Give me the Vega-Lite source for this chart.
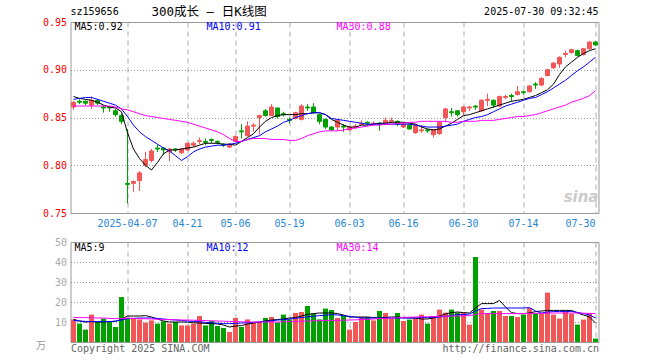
{
"$schema":"https://vega.github.io/schema/vega-lite/v6.json",
"padding":{"left":29.5,"top":5,"right":10,"bottom":4},
"spacing":7,
"config":{"view":{"stroke":"#999999","strokeWidth":1},"font":"DejaVu Sans Mono","axis":{"labelFont":"DejaVu Sans Mono","labelFontSize":10,"labelOverlap":false},"text":{"font":"DejaVu Sans Mono","fontSize":10,"baseline":"middle"}},
"data":{"values":[
{"d":"2025-03-24","o":0.861,"c":0.866,"h":0.867,"l":0.858,"v":11.3,"m5":0.872,"m10":0.869,"m30":0.862,"vm5":11.3,"vm10":10.8,"vm30":12.2},
{"d":"2025-03-25","o":0.867,"c":0.866,"h":0.869,"l":0.864,"v":9.2,"m5":0.870,"m10":0.870,"m30":0.862,"vm5":10.5,"vm10":10.5,"vm30":12.2},
{"d":"2025-03-26","o":0.867,"c":0.865,"h":0.868,"l":0.863,"v":6.2,"m5":0.869,"m10":0.871,"m30":0.862,"vm5":10,"vm10":10.3,"vm30":12.2},
{"d":"2025-03-27","o":0.863,"c":0.868,"h":0.872,"l":0.859,"v":13.7,"m5":0.868,"m10":0.871,"m30":0.862,"vm5":10.2,"vm10":10.2,"vm30":12.1},
{"d":"2025-03-28","o":0.868,"c":0.865,"h":0.869,"l":0.863,"v":10,"m5":0.866,"m10":0.869,"m30":0.862,"vm5":10,"vm10":10.2,"vm30":12},
{"d":"2025-03-31","o":0.861,"c":0.860,"h":0.863,"l":0.855,"v":11.7,"m5":0.863,"m10":0.867,"m30":0.862,"vm5":10,"vm10":10.2,"vm30":12},
{"d":"2025-04-01","o":0.861,"c":0.860,"h":0.862,"l":0.856,"v":10,"m5":0.861,"m10":0.865,"m30":0.862,"vm5":10.2,"vm10":10.2,"vm30":11.8},
{"d":"2025-04-02","o":0.857,"c":0.853,"h":0.859,"l":0.851,"v":7.5,"m5":0.860,"m10":0.863,"m30":0.861,"vm5":10.3,"vm10":10.5,"vm30":11.7},
{"d":"2025-04-03","o":0.852,"c":0.846,"h":0.854,"l":0.843,"v":22.5,"m5":0.856,"m10":0.859,"m30":0.859,"vm5":11.3,"vm10":11,"vm30":11.7},
{"d":"2025-04-07","o":0.781,"c":0.780,"h":0.838,"l":0.760,"v":11.7,"m5":0.834,"m10":0.851,"m30":0.858,"vm5":13,"vm10":11.7,"vm30":12},
{"d":"2025-04-08","o":0.781,"c":0.783,"h":0.784,"l":0.772,"v":11.7,"m5":0.817,"m10":0.842,"m30":0.856,"vm5":13,"vm10":11.8,"vm30":11.8},
{"d":"2025-04-09","o":0.784,"c":0.792,"h":0.794,"l":0.773,"v":11.3,"m5":0.807,"m10":0.835,"m30":0.854,"vm5":13,"vm10":12,"vm30":11.7},
{"d":"2025-04-10","o":0.800,"c":0.806,"h":0.814,"l":0.798,"v":9.7,"m5":0.800,"m10":0.830,"m30":0.852,"vm5":13.2,"vm10":12,"vm30":11.6},
{"d":"2025-04-11","o":0.805,"c":0.815,"h":0.817,"l":0.803,"v":10.8,"m5":0.795,"m10":0.826,"m30":0.851,"vm5":12.5,"vm10":12,"vm30":11.5},
{"d":"2025-04-14","o":0.818,"c":0.817,"h":0.822,"l":0.814,"v":9.2,"m5":0.803,"m10":0.822,"m30":0.850,"vm5":11.5,"vm10":11.8,"vm30":11.4},
{"d":"2025-04-15","o":0.818,"c":0.816,"h":0.819,"l":0.811,"v":10.3,"m5":0.812,"m10":0.818,"m30":0.849,"vm5":10.5,"vm10":11.5,"vm30":11.3},
{"d":"2025-04-16","o":0.814,"c":0.817,"h":0.818,"l":0.804,"v":9.2,"m5":0.816,"m10":0.815,"m30":0.848,"vm5":10,"vm10":11.2,"vm30":11.2},
{"d":"2025-04-17","o":0.817,"c":0.816,"h":0.818,"l":0.814,"v":10,"m5":0.816,"m10":0.810,"m30":0.847,"vm5":10,"vm10":11,"vm30":11.1},
{"d":"2025-04-18","o":0.813,"c":0.817,"h":0.818,"l":0.812,"v":8.3,"m5":0.817,"m10":0.805,"m30":0.846,"vm5":10,"vm10":10.8,"vm30":11},
{"d":"2025-04-21","o":0.816,"c":0.823,"h":0.824,"l":0.815,"v":8.3,"m5":0.818,"m10":0.809,"m30":0.845,"vm5":10,"vm10":10.5,"vm30":11},
{"d":"2025-04-22","o":0.821,"c":0.823,"h":0.825,"l":0.819,"v":9.2,"m5":0.819,"m10":0.814,"m30":0.843,"vm5":9.6,"vm10":10.3,"vm30":10.9},
{"d":"2025-04-23","o":0.825,"c":0.826,"h":0.829,"l":0.822,"v":13,"m5":0.821,"m10":0.817,"m30":0.841,"vm5":9.5,"vm10":10.1,"vm30":10.8},
{"d":"2025-04-24","o":0.825,"c":0.824,"h":0.828,"l":0.821,"v":8.3,"m5":0.823,"m10":0.819,"m30":0.839,"vm5":9.3,"vm10":9.8,"vm30":10.7},
{"d":"2025-04-25","o":0.827,"c":0.826,"h":0.828,"l":0.823,"v":10.5,"m5":0.823,"m10":0.820,"m30":0.837,"vm5":9.2,"vm10":9.6,"vm30":10.6},
{"d":"2025-04-28","o":0.825,"c":0.824,"h":0.826,"l":0.822,"v":8,"m5":0.823,"m10":0.821,"m30":0.835,"vm5":9,"vm10":9.4,"vm30":10.5},
{"d":"2025-04-29","o":0.822,"c":0.821,"h":0.823,"l":0.819,"v":7,"m5":0.822,"m10":0.821,"m30":0.832,"vm5":8.5,"vm10":9.2,"vm30":10.4},
{"d":"2025-04-30","o":0.819,"c":0.822,"h":0.823,"l":0.818,"v":5,"m5":0.822,"m10":0.822,"m30":0.828,"vm5":7.5,"vm10":9.2,"vm30":10.3},
{"d":"2025-05-06","o":0.825,"c":0.830,"h":0.831,"l":0.824,"v":12,"m5":0.821,"m10":0.823,"m30":0.825,"vm5":8,"vm10":9.3,"vm30":10.2},
{"d":"2025-05-07","o":0.836,"c":0.835,"h":0.843,"l":0.828,"v":7.5,"m5":0.825,"m10":0.825,"m30":0.825,"vm5":8.2,"vm10":9.5,"vm30":10.1},
{"d":"2025-05-08","o":0.831,"c":0.841,"h":0.846,"l":0.830,"v":11.3,"m5":0.829,"m10":0.827,"m30":0.827,"vm5":9,"vm10":9.6,"vm30":10},
{"d":"2025-05-09","o":0.841,"c":0.842,"h":0.844,"l":0.835,"v":9.5,"m5":0.833,"m10":0.829,"m30":0.828,"vm5":9.5,"vm10":9.8,"vm30":10},
{"d":"2025-05-12","o":0.850,"c":0.852,"h":0.853,"l":0.832,"v":10,"m5":0.840,"m10":0.831,"m30":0.828,"vm5":10,"vm10":10,"vm30":10},
{"d":"2025-05-13","o":0.857,"c":0.852,"h":0.859,"l":0.851,"v":12,"m5":0.846,"m10":0.835,"m30":0.828,"vm5":10.5,"vm10":10.3,"vm30":10},
{"d":"2025-05-14","o":0.852,"c":0.861,"h":0.864,"l":0.852,"v":12.5,"m5":0.850,"m10":0.838,"m30":0.827,"vm5":11,"vm10":10.6,"vm30":10},
{"d":"2025-05-15","o":0.860,"c":0.851,"h":0.860,"l":0.849,"v":9.7,"m5":0.852,"m10":0.841,"m30":0.827,"vm5":11.2,"vm10":11,"vm30":10},
{"d":"2025-05-16","o":0.854,"c":0.853,"h":0.856,"l":0.851,"v":13.7,"m5":0.853,"m10":0.845,"m30":0.827,"vm5":11.5,"vm10":11.2,"vm30":10.1},
{"d":"2025-05-19","o":0.848,"c":0.847,"h":0.850,"l":0.844,"v":11.3,"m5":0.853,"m10":0.847,"m30":0.826,"vm5":12,"vm10":11.5,"vm30":10.2},
{"d":"2025-05-20","o":0.849,"c":0.855,"h":0.856,"l":0.848,"v":14.5,"m5":0.853,"m10":0.850,"m30":0.826,"vm5":12.2,"vm10":11.8,"vm30":10.3},
{"d":"2025-05-21","o":0.848,"c":0.862,"h":0.864,"l":0.847,"v":15,"m5":0.854,"m10":0.852,"m30":0.828,"vm5":13,"vm10":12.2,"vm30":10.4},
{"d":"2025-05-22","o":0.861,"c":0.860,"h":0.864,"l":0.857,"v":18,"m5":0.854,"m10":0.854,"m30":0.831,"vm5":13.8,"vm10":12.6,"vm30":10.5},
{"d":"2025-05-23","o":0.861,"c":0.855,"h":0.865,"l":0.854,"v":14.2,"m5":0.855,"m10":0.855,"m30":0.833,"vm5":14.2,"vm10":12.9,"vm30":10.6},
{"d":"2025-05-26","o":0.853,"c":0.846,"h":0.854,"l":0.843,"v":11.3,"m5":0.855,"m10":0.855,"m30":0.835,"vm5":14.5,"vm10":13.2,"vm30":10.7},
{"d":"2025-05-27","o":0.848,"c":0.840,"h":0.849,"l":0.838,"v":16.7,"m5":0.853,"m10":0.853,"m30":0.836,"vm5":14.5,"vm10":13.4,"vm30":10.8},
{"d":"2025-05-28","o":0.840,"c":0.837,"h":0.841,"l":0.836,"v":16,"m5":0.848,"m10":0.849,"m30":0.836,"vm5":14.6,"vm10":13.7,"vm30":10.8},
{"d":"2025-05-29","o":0.840,"c":0.847,"h":0.848,"l":0.836,"v":12,"m5":0.845,"m10":0.848,"m30":0.836,"vm5":14.2,"vm10":13.5,"vm30":10.8},
{"d":"2025-05-30","o":0.841,"c":0.840,"h":0.843,"l":0.835,"v":13,"m5":0.842,"m10":0.847,"m30":0.837,"vm5":13.5,"vm10":13.2,"vm30":10.9},
{"d":"2025-06-03","o":0.837,"c":0.840,"h":0.841,"l":0.836,"v":6.2,"m5":0.840,"m10":0.846,"m30":0.838,"vm5":12.5,"vm10":12.8,"vm30":11},
{"d":"2025-06-04","o":0.840,"c":0.841,"h":0.843,"l":0.838,"v":10,"m5":0.840,"m10":0.845,"m30":0.839,"vm5":12.5,"vm10":12.4,"vm30":11.1},
{"d":"2025-06-05","o":0.843,"c":0.844,"h":0.847,"l":0.842,"v":12.5,"m5":0.842,"m10":0.844,"m30":0.840,"vm5":12.5,"vm10":12,"vm30":11.2},
{"d":"2025-06-06","o":0.845,"c":0.844,"h":0.846,"l":0.842,"v":12.5,"m5":0.842,"m10":0.843,"m30":0.841,"vm5":12.5,"vm10":12,"vm30":11.3},
{"d":"2025-06-09","o":0.843,"c":0.844,"h":0.846,"l":0.841,"v":10.8,"m5":0.843,"m10":0.843,"m30":0.842,"vm5":12.2,"vm10":12,"vm30":11.5},
{"d":"2025-06-10","o":0.844,"c":0.843,"h":0.845,"l":0.836,"v":15.5,"m5":0.844,"m10":0.843,"m30":0.842,"vm5":12,"vm10":12,"vm30":11.7},
{"d":"2025-06-11","o":0.843,"c":0.847,"h":0.850,"l":0.842,"v":14.5,"m5":0.844,"m10":0.843,"m30":0.843,"vm5":12.3,"vm10":12,"vm30":11.8},
{"d":"2025-06-12","o":0.846,"c":0.847,"h":0.850,"l":0.844,"v":11.7,"m5":0.845,"m10":0.843,"m30":0.843,"vm5":12.5,"vm10":12,"vm30":12},
{"d":"2025-06-13","o":0.846,"c":0.843,"h":0.847,"l":0.841,"v":14.5,"m5":0.845,"m10":0.843,"m30":0.844,"vm5":12.5,"vm10":12,"vm30":12.1},
{"d":"2025-06-16","o":0.840,"c":0.843,"h":0.844,"l":0.839,"v":10.5,"m5":0.845,"m10":0.843,"m30":0.844,"vm5":12.2,"vm10":12,"vm30":12.3},
{"d":"2025-06-17","o":0.842,"c":0.838,"h":0.843,"l":0.837,"v":11.2,"m5":0.844,"m10":0.843,"m30":0.845,"vm5":12,"vm10":12,"vm30":12.4},
{"d":"2025-06-18","o":0.834,"c":0.842,"h":0.843,"l":0.833,"v":12,"m5":0.843,"m10":0.842,"m30":0.845,"vm5":12,"vm10":12,"vm30":12.5},
{"d":"2025-06-19","o":0.836,"c":0.837,"h":0.842,"l":0.834,"v":13.7,"m5":0.840,"m10":0.841,"m30":0.846,"vm5":11.5,"vm10":12.2,"vm30":12.6},
{"d":"2025-06-20","o":0.837,"c":0.836,"h":0.838,"l":0.834,"v":9.2,"m5":0.838,"m10":0.840,"m30":0.846,"vm5":11.5,"vm10":12.2,"vm30":12.6},
{"d":"2025-06-23","o":0.832,"c":0.837,"h":0.838,"l":0.829,"v":13,"m5":0.837,"m10":0.840,"m30":0.846,"vm5":12,"vm10":12.3,"vm30":12.7},
{"d":"2025-06-24","o":0.833,"c":0.845,"h":0.846,"l":0.832,"v":16.2,"m5":0.838,"m10":0.840,"m30":0.846,"vm5":13,"vm10":12.5,"vm30":12.8},
{"d":"2025-06-25","o":0.850,"c":0.859,"h":0.860,"l":0.845,"v":14.7,"m5":0.841,"m10":0.841,"m30":0.846,"vm5":14,"vm10":12.8,"vm30":12.9},
{"d":"2025-06-26","o":0.856,"c":0.855,"h":0.860,"l":0.851,"v":16.2,"m5":0.844,"m10":0.842,"m30":0.845,"vm5":14.7,"vm10":13.2,"vm30":13},
{"d":"2025-06-27","o":0.857,"c":0.853,"h":0.858,"l":0.851,"v":14.7,"m5":0.848,"m10":0.843,"m30":0.845,"vm5":15,"vm10":13.7,"vm30":13},
{"d":"2025-06-30","o":0.856,"c":0.861,"h":0.862,"l":0.853,"v":14.7,"m5":0.852,"m10":0.846,"m30":0.846,"vm5":14.7,"vm10":13.7,"vm30":13.1},
{"d":"2025-07-01","o":0.860,"c":0.861,"h":0.862,"l":0.857,"v":8.7,"m5":0.853,"m10":0.848,"m30":0.846,"vm5":14.5,"vm10":14,"vm30":13.2},
{"d":"2025-07-02","o":0.862,"c":0.861,"h":0.863,"l":0.858,"v":42.5,"m5":0.855,"m10":0.850,"m30":0.846,"vm5":17,"vm10":15.5,"vm30":13.8},
{"d":"2025-07-03","o":0.857,"c":0.868,"h":0.869,"l":0.856,"v":16.2,"m5":0.857,"m10":0.851,"m30":0.847,"vm5":19.2,"vm10":16.7,"vm30":14.2},
{"d":"2025-07-04","o":0.868,"c":0.869,"h":0.875,"l":0.862,"v":14.5,"m5":0.859,"m10":0.853,"m30":0.847,"vm5":19.2,"vm10":16.8,"vm30":14.2},
{"d":"2025-07-07","o":0.868,"c":0.863,"h":0.869,"l":0.860,"v":15.5,"m5":0.861,"m10":0.856,"m30":0.847,"vm5":19.2,"vm10":17,"vm30":14.2},
{"d":"2025-07-08","o":0.862,"c":0.872,"h":0.873,"l":0.861,"v":15.5,"m5":0.863,"m10":0.859,"m30":0.848,"vm5":20.8,"vm10":17,"vm30":14.2},
{"d":"2025-07-09","o":0.871,"c":0.872,"h":0.874,"l":0.869,"v":13,"m5":0.865,"m10":0.862,"m30":0.849,"vm5":17.5,"vm10":17,"vm30":14.2},
{"d":"2025-07-10","o":0.873,"c":0.872,"h":0.875,"l":0.867,"v":13,"m5":0.867,"m10":0.864,"m30":0.850,"vm5":14.7,"vm10":17,"vm30":14.2},
{"d":"2025-07-11","o":0.874,"c":0.877,"h":0.883,"l":0.873,"v":12.5,"m5":0.868,"m10":0.866,"m30":0.851,"vm5":14.2,"vm10":17,"vm30":14.2},
{"d":"2025-07-14","o":0.877,"c":0.876,"h":0.878,"l":0.874,"v":13.7,"m5":0.869,"m10":0.868,"m30":0.851,"vm5":14.2,"vm10":17,"vm30":14.2},
{"d":"2025-07-15","o":0.877,"c":0.883,"h":0.884,"l":0.876,"v":17,"m5":0.871,"m10":0.870,"m30":0.852,"vm5":14.5,"vm10":17.2,"vm30":14.3},
{"d":"2025-07-16","o":0.885,"c":0.884,"h":0.887,"l":0.880,"v":14.5,"m5":0.873,"m10":0.871,"m30":0.853,"vm5":15.2,"vm10":15.5,"vm30":14.3},
{"d":"2025-07-17","o":0.884,"c":0.891,"h":0.892,"l":0.883,"v":14.2,"m5":0.876,"m10":0.874,"m30":0.855,"vm5":15.5,"vm10":14.5,"vm30":14.3},
{"d":"2025-07-18","o":0.894,"c":0.900,"h":0.901,"l":0.893,"v":24.7,"m5":0.879,"m10":0.877,"m30":0.857,"vm5":15.8,"vm10":15,"vm30":14.4},
{"d":"2025-07-21","o":0.902,"c":0.907,"h":0.908,"l":0.901,"v":13.7,"m5":0.885,"m10":0.881,"m30":0.859,"vm5":15.8,"vm10":15.2,"vm30":14.5},
{"d":"2025-07-22","o":0.906,"c":0.913,"h":0.914,"l":0.902,"v":11.7,"m5":0.895,"m10":0.885,"m30":0.861,"vm5":15.8,"vm10":15.3,"vm30":14.5},
{"d":"2025-07-23","o":0.916,"c":0.917,"h":0.920,"l":0.913,"v":15.5,"m5":0.903,"m10":0.889,"m30":0.863,"vm5":15.8,"vm10":15.3,"vm30":14.5},
{"d":"2025-07-24","o":0.918,"c":0.921,"h":0.922,"l":0.917,"v":14.2,"m5":0.908,"m10":0.894,"m30":0.866,"vm5":15.8,"vm10":15.3,"vm30":14.5},
{"d":"2025-07-25","o":0.920,"c":0.915,"h":0.921,"l":0.914,"v":8.7,"m5":0.913,"m10":0.899,"m30":0.868,"vm5":14.5,"vm10":14.8,"vm30":14.5},
{"d":"2025-07-28","o":0.916,"c":0.922,"h":0.923,"l":0.915,"v":11.2,"m5":0.917,"m10":0.903,"m30":0.870,"vm5":13.5,"vm10":14.2,"vm30":14.4},
{"d":"2025-07-29","o":0.922,"c":0.929,"h":0.930,"l":0.921,"v":14.5,"m5":0.920,"m10":0.908,"m30":0.873,"vm5":12.5,"vm10":13.5,"vm30":14.3},
{"d":"2025-07-30","o":0.929,"c":0.926,"h":0.930,"l":0.925,"v":1.7,"m5":0.922,"m10":0.913,"m30":0.878,"vm5":9.5,"vm10":12,"vm30":14.2}
]},
"vconcat":[
{"width":528,"height":191,
"layer":[
{"mark":{"type":"rule","strokeWidth":1},
"encoding":{
"x":{"field":"d","type":"ordinal","scale":{"type":"band","paddingInner":0,"paddingOuter":0},"axis":{"title":null,"values":["2025-04-07","2025-04-21","2025-05-06","2025-05-19","2025-06-03","2025-06-16","2025-06-30","2025-07-14","2025-07-30"],"labelExpr":"datum.value == '2025-04-07' ? datum.value : slice(datum.value, 5)","labelAngle":0,"labelOverlap":false,"grid":true,"gridDash":[5,4],"gridColor":"#aaaaaa","ticks":false,"domain":false,"labelColor":"#2a86d6","labelPadding":5,"bandPosition":0.5,"labelFlush":9}},
"y":{"field":"l","type":"quantitative","scale":{"domain":[0.75,0.95],"nice":false,"zero":false},"axis":{"title":null,"values":[0.75,0.8,0.85,0.9,0.95],"format":".2f","labelOverlap":false,"grid":true,"gridDash":[1,2],"gridColor":"#999999","ticks":false,"domain":false,"labelColor":"#ff0000","labelPadding":4,"minExtent":40,"maxExtent":40}},
"y2":{"field":"h"},
"color":{"condition":{"test":"datum.c >= datum.o","value":"#f25757"},"value":"#00a000"}}},
{"mark":{"type":"bar","size":4,"strokeWidth":1},
"encoding":{
"x":{"field":"d","type":"ordinal"},
"y":{"field":"o","type":"quantitative"},
"y2":{"field":"c"},
"fill":{"condition":{"test":"datum.c >= datum.o","value":"#f25757"},"value":"#00a000"},
"stroke":{"condition":{"test":"datum.c >= datum.o","value":"#f25757"},"value":"#00a000"}}},
{"mark":{"type":"line","strokeWidth":1,"color":"#000000"},"encoding":{"x":{"field":"d","type":"ordinal"},"y":{"field":"m5","type":"quantitative"}}},
{"mark":{"type":"line","strokeWidth":1,"color":"#0000ff"},"encoding":{"x":{"field":"d","type":"ordinal"},"y":{"field":"m10","type":"quantitative"}}},
{"mark":{"type":"line","strokeWidth":1,"color":"#ff00ff"},"encoding":{"x":{"field":"d","type":"ordinal"},"y":{"field":"m30","type":"quantitative"}}},
{"data":{"values":[{}]},"mark":{"type":"text","align":"left","dx":-3,"color":"#000000"},"encoding":{"x":{"datum":"2025-03-24","type":"ordinal"},"y":{"datum":0.9605,"type":"quantitative"},"text":{"value":"sz159656"}}},
{"data":{"values":[{}]},"mark":{"type":"text","align":"left","dx":0,"color":"#000000","fontSize":12.5,"font":"DejaVu Sans Mono, Noto Sans CJK SC"},"encoding":{"x":{"datum":"2025-04-11","type":"ordinal"},"y":{"datum":0.9605,"type":"quantitative"},"text":{"value":"300成长 — 日K线图"}}},
{"data":{"values":[{}]},"mark":{"type":"text","align":"right","dx":3,"color":"#000000"},"encoding":{"x":{"datum":"2025-07-30","type":"ordinal"},"y":{"datum":0.9605,"type":"quantitative"},"text":{"value":"2025-07-30 09:32:45"}}},
{"data":{"values":[{}]},"mark":{"type":"text","align":"left","dx":1,"color":"#000000"},"encoding":{"x":{"datum":"2025-03-24","type":"ordinal"},"y":{"datum":0.9447,"type":"quantitative"},"text":{"value":"MA5:0.92"}}},
{"data":{"values":[{}]},"mark":{"type":"text","align":"left","dx":1,"color":"#0000ff"},"encoding":{"x":{"datum":"2025-04-24","type":"ordinal"},"y":{"datum":0.9447,"type":"quantitative"},"text":{"value":"MA10:0.91"}}},
{"data":{"values":[{}]},"mark":{"type":"text","align":"left","dx":-1,"color":"#ff00ff"},"encoding":{"x":{"datum":"2025-05-29","type":"ordinal"},"y":{"datum":0.9447,"type":"quantitative"},"text":{"value":"MA30:0.88"}}},
{"data":{"values":[{}]},"mark":{"type":"text","align":"right","dx":3,"color":"#cccccc","fontSize":15,"fontStyle":"italic","fontWeight":"bold","font":"DejaVu Sans"},"encoding":{"x":{"datum":"2025-07-30","type":"ordinal"},"y":{"datum":0.7663,"type":"quantitative"},"text":{"value":"sina"}}}
]},
{"width":528,"height":100,
"layer":[
{"mark":{"type":"bar","size":5},
"encoding":{
"x":{"field":"d","type":"ordinal","scale":{"type":"band","paddingInner":0,"paddingOuter":0},"axis":{"title":null,"values":["2025-04-07","2025-04-21","2025-05-06","2025-05-19","2025-06-03","2025-06-16","2025-06-30","2025-07-14","2025-07-30"],"labels":false,"grid":true,"gridDash":[5,4],"gridColor":"#aaaaaa","ticks":false,"domain":false,"bandPosition":0.5}},
"y":{"field":"v","type":"quantitative","scale":{"domain":[0,50],"nice":false},"axis":{"title":"万","titleAngle":0,"titleAlign":"center","titleBaseline":"middle","titleX":-30,"titleY":103,"titleColor":"#999999","titleFontSize":10,"titleFontWeight":"normal","titleFont":"Noto Sans CJK SC","values":[10,20,30,40,50],"tickCount":5,"labelOverlap":false,"grid":true,"gridDash":[1,2],"gridColor":"#999999","ticks":false,"domain":false,"labelColor":"#aaaaaa","labelPadding":4,"minExtent":40,"maxExtent":40}},
"color":{"condition":{"test":"datum.c >= datum.o","value":"#f25757"},"value":"#00a000"}}},
{"mark":{"type":"line","strokeWidth":1,"color":"#000000"},"encoding":{"x":{"field":"d","type":"ordinal"},"y":{"field":"vm5","type":"quantitative"}}},
{"mark":{"type":"line","strokeWidth":1,"color":"#0000ff"},"encoding":{"x":{"field":"d","type":"ordinal"},"y":{"field":"vm10","type":"quantitative"}}},
{"mark":{"type":"line","strokeWidth":1,"color":"#ff00ff"},"encoding":{"x":{"field":"d","type":"ordinal"},"y":{"field":"vm30","type":"quantitative"}}},
{"data":{"values":[{}]},"mark":{"type":"text","align":"left","dx":1,"color":"#000000"},"encoding":{"x":{"datum":"2025-03-24","type":"ordinal"},"y":{"datum":47,"type":"quantitative"},"text":{"value":"MA5:9"}}},
{"data":{"values":[{}]},"mark":{"type":"text","align":"left","dx":1,"color":"#0000ff"},"encoding":{"x":{"datum":"2025-04-24","type":"ordinal"},"y":{"datum":47,"type":"quantitative"},"text":{"value":"MA10:12"}}},
{"data":{"values":[{}]},"mark":{"type":"text","align":"left","dx":-1,"color":"#ff00ff"},"encoding":{"x":{"datum":"2025-05-29","type":"ordinal"},"y":{"datum":47,"type":"quantitative"},"text":{"value":"MA30:14"}}},
{"data":{"values":[{}]},"mark":{"type":"text","align":"left","dx":-2.5,"color":"#666666"},"encoding":{"x":{"datum":"2025-03-24","type":"ordinal"},"y":{"datum":-3.5,"type":"quantitative"},"text":{"value":"Copyright 2025 SINA.COM"}}},
{"data":{"values":[{}]},"mark":{"type":"text","align":"right","dx":3.5,"color":"#666666"},"encoding":{"x":{"datum":"2025-07-30","type":"ordinal"},"y":{"datum":-3.5,"type":"quantitative"},"text":{"value":"http://finance.sina.com.cn"}}}
]}
]
}
